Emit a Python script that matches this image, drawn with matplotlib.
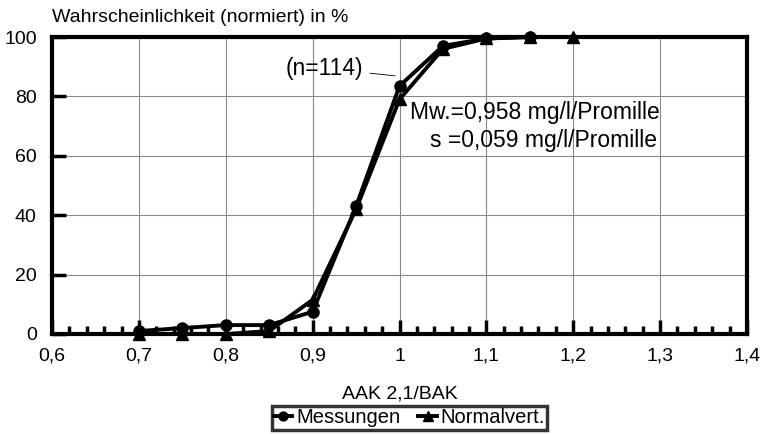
import matplotlib.pyplot as plt
from matplotlib.ticker import MultipleLocator

x_mess = [0.7, 0.75, 0.8, 0.85, 0.9, 0.95, 1.0, 1.05, 1.1, 1.15]
y_mess = [1, 2, 3, 3, 7.5, 43, 83.5, 97, 99.5, 100]

x_norm = [0.7, 0.75, 0.8, 0.85, 0.9, 0.95, 1.0, 1.05, 1.1, 1.15, 1.2]
y_norm = [0, 0, 0, 1, 11.5, 42, 79, 96, 99.5, 100, 100]

xticks = [0.6, 0.7, 0.8, 0.9, 1.0, 1.1, 1.2, 1.3, 1.4]
xticklabels = ['0,6', '0,7', '0,8', '0,9', '1', '1,1', '1,2', '1,3', '1,4']
yticks = [0, 20, 40, 60, 80, 100]

plt.rcParams['font.family'] = ['Liberation Sans', 'DejaVu Sans']

fig = plt.figure(figsize=(7.63, 4.34), dpi=100)
ax = fig.add_axes([52/763, 100/434, 695/763, 297/434])

ax.plot(x_mess, y_mess, color='black', lw=2.8, marker='o', ms=8, label='Messungen', clip_on=False, zorder=4)
ax.plot(x_norm, y_norm, color='black', lw=2.8, marker='^', ms=9, label='Normalvert.', clip_on=False, zorder=4)

ax.set_xlim(0.6, 1.4)
ax.set_ylim(0, 100)
ax.set_xticks(xticks)
ax.set_xticklabels(xticklabels, fontsize=14)
ax.set_yticks(yticks)
ax.set_yticklabels([str(v) for v in yticks], fontsize=14)
ax.xaxis.set_minor_locator(MultipleLocator(0.02))
ax.tick_params(axis='x', which='major', direction='in', length=10, width=2.5, pad=10)
ax.tick_params(axis='x', which='minor', direction='in', length=6, width=2.5)
ax.tick_params(axis='y', which='major', direction='in', length=10, width=2.5, pad=11)
ax.grid(True, which='major', color='#888888', lw=0.8)
for s in ax.spines.values():
    s.set_linewidth(3)

fig.text(52/763, 1 - 18/434, 'Wahrscheinlichkeit (normiert) in %', fontsize=14, va='center', ha='left')
ax.set_xlabel('AAK 2,1/BAK', fontsize=14, labelpad=15)

ax.annotate('(n=114)', xy=(0.995, 86.9), xytext=(0.958, 89.5), fontsize=16.5,
            ha='right', va='center',
            arrowprops=dict(arrowstyle='-', color='black', lw=0.6, shrinkA=3, shrinkB=0))
ax.text(1.012, 74.7, 'Mw.=0,958 mg/l/Promille', fontsize=16.5, ha='left', va='center')
ax.text(1.2964, 65.3, 's =0,059 mg/l/Promille', fontsize=16.5, ha='right', va='center')

leg = fig.legend(loc='upper center', bbox_to_anchor=(409.5/763, 1 - 406/434), ncol=2,
                 frameon=True, fancybox=False, edgecolor='black', borderaxespad=0,
                 prop={'size': 14.5}, handlelength=0.9, handletextpad=0.2,
                 columnspacing=0.9, borderpad=0.12, markerscale=0.8)
leg.get_frame().set_linewidth(2.5)

fig.savefig('out.png', dpi=100)
